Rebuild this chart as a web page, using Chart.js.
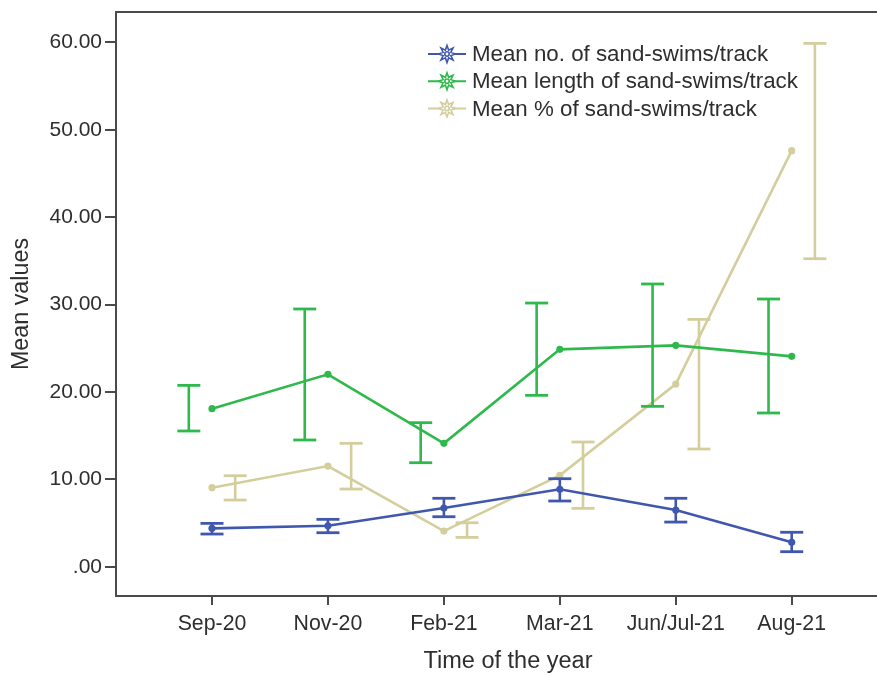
<!DOCTYPE html>
<html>
<head>
<meta charset="utf-8">
<script src="https://cdn.jsdelivr.net/npm/chart.js@4/dist/chart.umd.min.js"></script>
<style>
  html, body { margin: 0; padding: 0; background: #fff; overflow: hidden; width: 877px; height: 676px; }
  canvas { display: block; }
</style>
</head>
<body>
<canvas id="c" width="900" height="676"></canvas>
<script>
// Sampling periods
const periods = ['Sep-20', 'Nov-20', 'Feb-21', 'Mar-21', 'Jun/Jul-21', 'Aug-21'];

// Mean number of sand-swims per track, with error bar limits
const countMean = [4.39, 4.69, 6.72, 8.86, 6.49, 2.79];
const countLow  = [3.74, 3.89, 5.72, 7.52, 5.11, 1.72];
const countHigh = [4.96, 5.42, 7.83, 10.07, 7.83, 3.94];

// Mean length of sand-swims per track
const lengthMean = [18.08, 22.01, 14.12, 24.87, 25.33, 24.07];
const lengthLow  = [15.53, 14.50, 11.90, 19.61, 18.35, 17.59];
const lengthHigh = [20.75, 29.49, 16.48, 30.17, 32.35, 30.63];

// Mean percentage of sand-swims per track
const pctMean = [9.04, 11.52, 4.08, 10.45, 20.90, 47.60];
const pctLow  = [7.63, 8.89, 3.36, 6.68, 13.47, 35.24];
const pctHigh = [10.41, 14.12, 5.03, 14.27, 28.30, 59.88];

const yTicks = [0, 10, 20, 30, 40, 50, 60];

const BLUE = '#3f58ae';
const GREEN = '#2fb94c';
const BEIGE = '#d4cd9c';
const AXIS = '#4a4a4a';
const TEXT = '#2e2e2e';
const FONT = '"Liberation Sans", Arial, sans-serif';

function meanSeries(label, values, color, order) {
  return {
    label,
    data: values.map((v, i) => ({ x: i, y: v })),
    borderColor: color,
    backgroundColor: color,
    borderWidth: 2.6,
    pointRadius: 3.6,
    pointHoverRadius: 3.6,
    pointBorderWidth: 0,
    pointBackgroundColor: color,
    showLine: true,
    order,
    isMean: true
  };
}

// Error bars: one vertical segment with caps per period, shifted sideways by `shift`
function errorSeries(low, high, color, shift, order) {
  const pts = [];
  low.forEach((lo, i) => {
    pts.push({ x: i + shift, y: lo });
    pts.push({ x: i + shift, y: high[i] });
    pts.push({ x: i + shift, y: null });
  });
  return {
    label: '',
    data: pts,
    borderColor: color,
    backgroundColor: color,
    borderWidth: 2.6,
    pointStyle: 'line',
    pointRadius: 11.5,
    pointHoverRadius: 11.5,
    pointBorderWidth: 2.8,
    pointBorderColor: color,
    showLine: true,
    spanGaps: false,
    order
  };
}

const datasets = [
  meanSeries('Mean no. of sand-swims/track', countMean, BLUE, 1),
  errorSeries(countLow, countHigh, BLUE, 0, 2),
  meanSeries('Mean length of sand-swims/track', lengthMean, GREEN, 3),
  errorSeries(lengthLow, lengthHigh, GREEN, -0.2, 4),
  meanSeries('Mean % of sand-swims/track', pctMean, BEIGE, 5),
  errorSeries(pctLow, pctHigh, BEIGE, 0.2, 6)
];

function starMarker(ctx, cx, cy, color) {
  const spikes = 8, outer = 8.5, inner = 4.2;
  ctx.save();
  ctx.beginPath();
  for (let k = 0; k < spikes * 2; k++) {
    const r = k % 2 === 0 ? outer : inner;
    const a = -Math.PI / 2 + k * Math.PI / spikes;
    const px = cx + r * Math.cos(a), py = cy + r * Math.sin(a);
    if (k === 0) ctx.moveTo(px, py); else ctx.lineTo(px, py);
  }
  ctx.closePath();
  ctx.fillStyle = '#fff';
  ctx.fill();
  ctx.strokeStyle = color;
  ctx.lineWidth = 1.6;
  ctx.stroke();
  ctx.beginPath();
  ctx.arc(cx, cy, 2.2, 0, Math.PI * 2);
  ctx.stroke();
  ctx.restore();
}

// Legend drawn inside the plot: line + star marker, then the series name
const legendPlugin = {
  id: 'seriesLegend',
  afterDatasetsDraw(chart) {
    const ctx = chart.ctx;
    const means = chart.data.datasets.filter(d => d.isMean);
    const x0 = 428, x1 = 466, textX = 472, rowY = 54, rowGap = 27.2;
    ctx.save();
    ctx.font = '22.3px ' + FONT;
    ctx.textBaseline = 'middle';
    means.forEach((d, i) => {
      const y = rowY + i * rowGap;
      ctx.strokeStyle = d.borderColor;
      ctx.lineWidth = 2;
      ctx.beginPath();
      ctx.moveTo(x0, y);
      ctx.lineTo(x1, y);
      ctx.stroke();
      starMarker(ctx, (x0 + x1) / 2, y, d.borderColor);
      ctx.fillStyle = TEXT;
      ctx.fillText(d.label, textX, y + 1);
    });
    ctx.restore();
  }
};

// Plot frame extends past the visible right edge of the page
const xMin = -0.828, xMax = 5.934;

function noPad(s) {
  s.paddingLeft = 0; s.paddingRight = 0; s.paddingTop = 0; s.paddingBottom = 0;
}

new Chart(document.getElementById('c'), {
  type: 'scatter',
  data: { datasets },
  plugins: [legendPlugin],
  options: {
    responsive: false,
    animation: false,
    devicePixelRatio: 1,
    layout: { padding: 0, autoPadding: false },
    plugins: { legend: { display: false }, tooltip: { enabled: false } },
    scales: {
      x: {
        type: 'linear',
        position: 'bottom',
        min: xMin,
        max: xMax,
        afterBuildTicks: s => { s.ticks = periods.map((_, i) => ({ value: i })); },
        afterFit: s => { s.height = 80; noPad(s); },
        ticks: {
          callback: v => periods[v],
          color: TEXT,
          font: { family: FONT, size: 21.3 },
          padding: 6,
          maxRotation: 0,
          autoSkip: false
        },
        grid: { drawOnChartArea: false, drawTicks: true, tickLength: 9, tickColor: AXIS, lineWidth: 2 },
        border: { display: true, color: AXIS, width: 2 },
        title: {
          display: true,
          text: 'Time of the year',
          color: TEXT,
          font: { family: FONT, size: 23.5 },
          padding: { top: 0, bottom: 0 }
        }
      },
      xTop: {
        type: 'linear',
        position: 'top',
        min: xMin,
        max: xMax,
        afterFit: s => { s.height = 12; noPad(s); },
        ticks: { display: false },
        grid: { display: false, drawTicks: false },
        border: { display: true, color: AXIS, width: 2 }
      },
      y: {
        type: 'linear',
        position: 'left',
        min: -3.35,
        max: 63.47,
        afterBuildTicks: s => { s.ticks = yTicks.map(v => ({ value: v })); },
        afterFit: s => { s.width = 116; noPad(s); },
        ticks: {
          callback: v => v === 0 ? '.00' : v.toFixed(2),
          color: TEXT,
          font: { family: FONT, size: 21 },
          padding: 3
        },
        grid: { drawOnChartArea: false, drawTicks: true, tickLength: 11, tickColor: AXIS, lineWidth: 2 },
        border: { display: true, color: AXIS, width: 2 },
        title: {
          display: true,
          text: 'Mean values',
          color: TEXT,
          font: { family: FONT, size: 23.3 },
          padding: { top: 8, bottom: 0 }
        }
      }
    }
  }
});
</script>
</body>
</html>
